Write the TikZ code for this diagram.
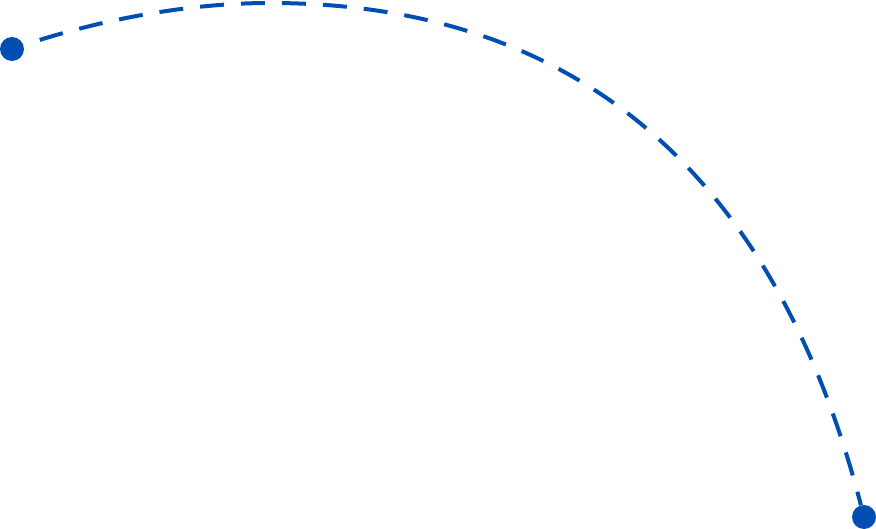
\documentclass[tikz,border=0pt]{standalone}
\usepackage{xcolor}
\usepackage{tikz}
\usetikzlibrary{positioning,calc}
\definecolor{pathBlue}{RGB}{0,78,178}

\begin{document}
\begin{tikzpicture}[x=1pt,y=-1pt,
    endpt/.style={circle,fill=pathBlue,inner sep=0pt,minimum size=24pt},
    route/.style={pathBlue,line width=4pt,dash pattern=on 24pt off 17pt,
                  dash phase=24pt}]
        \useasboundingbox (0,0) rectangle (876,529);
        % Extremos
        \node[endpt] (start) at (12,49) {};
        \node[endpt] (end) at (864,517) {};
        \coordinate (peak) at (270,3);

        % Trajeto tracejado
        \draw[route] (start) .. controls (102,19) and (190,3) .. (peak)
          .. controls (520,3) and (760,117) .. (end);
      \end{tikzpicture}
\end{document}
